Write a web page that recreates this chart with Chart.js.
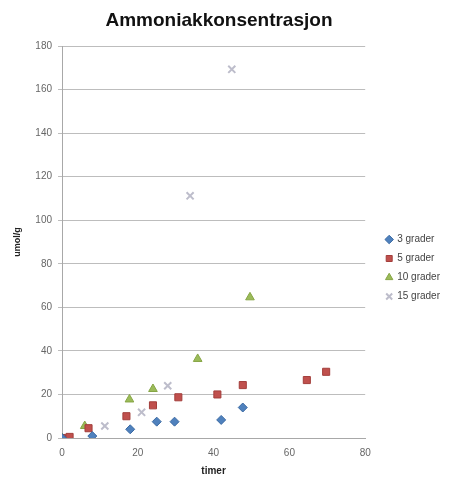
<!DOCTYPE html>
<html>
<head>
<meta charset="utf-8">
<script src="https://cdn.jsdelivr.net/npm/chart.js@4/dist/chart.umd.min.js"></script>
<style>
  html, body { margin: 0; padding: 0; background: #ffffff; }
  #wrap { width: 449px; height: 486px; }
</style>
</head>
<body>
<div id="wrap"><canvas id="c" width="449" height="486"></canvas></div>
<script>
// Ammonia concentration (umol/g) over time (hours) at four storage temperatures
const seriesNames = ['3 grader', '5 grader', '10 grader', '15 grader'];

const hours3 = [0, 8, 18, 25, 29.7, 42, 47.7];
const conc3  = [0, 0.9, 4, 7.5, 7.5, 8.3, 14];

const hours5 = [0, 2, 7, 17, 24, 30.7, 41, 47.7, 64.6, 69.7];
const conc5  = [0, 0.5, 4.5, 10, 15, 18.7, 20, 24.3, 26.6, 30.4];

const hours10 = [0, 6, 17.8, 24, 35.8, 49.6];
const conc10  = [0, 5.5, 17.7, 22.5, 36.3, 64.6];

const hours15 = [0, 11.3, 21, 27.9, 33.8, 44.8];
const conc15  = [0, 5.5, 11.8, 24, 111.2, 169.3];

const xTicks = [0, 20, 40, 60, 80];
const yTicks = [0, 20, 40, 60, 80, 100, 120, 140, 160, 180];

function toPoints(xs, ys) {
  return xs.map((x, i) => ({ x: x, y: ys[i] }));
}

const FONT = '"Liberation Sans", Arial, sans-serif';

// Nudges the legend block right of and below its default slot while drawing
const LEGEND_DX = 12;
const LEGEND_DY = 25;
const legendShift = {
  id: 'legendShift',
  beforeDraw(chart) {
    const lg = chart.legend;
    if (lg) {
      lg.left += LEGEND_DX; lg.right += LEGEND_DX;
      lg.top += LEGEND_DY; lg.bottom += LEGEND_DY;
    }
  },
  afterDraw(chart) {
    const lg = chart.legend;
    if (lg) {
      lg.left -= LEGEND_DX; lg.right -= LEGEND_DX;
      lg.top -= LEGEND_DY; lg.bottom -= LEGEND_DY;
    }
  }
};

new Chart(document.getElementById('c'), {
  type: 'scatter',
  data: {
    datasets: [
      {
        label: seriesNames[0],
        data: toPoints(hours3, conc3),
        pointStyle: 'rectRot',
        pointRadius: 4.5,
        backgroundColor: '#4F81BD',
        borderColor: '#3B6AA3',
        borderWidth: 1
      },
      {
        label: seriesNames[1],
        data: toPoints(hours5, conc5),
        pointStyle: 'rect',
        pointRadius: 5,
        backgroundColor: '#C0504D',
        borderColor: '#A33E3B',
        borderWidth: 1
      },
      {
        label: seriesNames[2],
        data: toPoints(hours10, conc10),
        pointStyle: 'triangle',
        pointRadius: 5,
        backgroundColor: '#9BBB59',
        borderColor: '#86A545',
        borderWidth: 1
      },
      {
        label: seriesNames[3],
        data: toPoints(hours15, conc15),
        pointStyle: 'crossRot',
        pointRadius: 5,
        backgroundColor: '#BDBDCB',
        borderColor: '#BDBDCB',
        borderWidth: 2
      }
    ]
  },
  options: {
    responsive: false,
    animation: false,
    devicePixelRatio: 1,
    layout: { padding: { left: 0, right: 11, top: 0, bottom: 0 } },
    plugins: {
      title: {
        display: true,
        text: 'Ammoniakkonsentrasjon',
        color: '#111111',
        font: { family: FONT, size: 19, weight: 'bold' },
        padding: { top: 9, bottom: 14.2 }
      },
      legend: {
        display: true,
        position: 'right',
        align: 'center',
        labels: {
          usePointStyle: true,
          boxWidth: 6,
          boxHeight: 6,
          padding: 9,
          color: '#444444',
          font: { family: FONT, size: 10 }
        }
      },
      tooltip: { enabled: false }
    },
    scales: {
      x: {
        type: 'linear',
        min: 0,
        max: 80,
        afterBuildTicks(scale) { scale.ticks = xTicks.map(v => ({ value: v })); },
        afterFit(scale) { scale.height = 48; },
        grid: { display: false, drawTicks: false },
        border: { display: true, color: '#A8A8A8', width: 1 },
        ticks: {
          padding: 9,
          color: '#666666',
          font: { family: FONT, size: 10 }
        },
        title: {
          display: true,
          text: 'timer',
          color: '#222222',
          font: { family: FONT, size: 10, weight: 'bold' },
          padding: { top: 4, bottom: 9 }
        }
      },
      y: {
        type: 'linear',
        min: 0,
        max: 180,
        afterBuildTicks(scale) { scale.ticks = yTicks.map(v => ({ value: v })); },
        afterFit(scale) { scale.width = 62; },
        grid: {
          color: '#BDBDBD',
          lineWidth: 1,
          drawTicks: true,
          tickLength: 4
        },
        border: { display: true, color: '#A8A8A8', width: 1 },
        ticks: {
          padding: 6,
          color: '#666666',
          font: { family: FONT, size: 10 }
        },
        title: {
          display: true,
          text: 'umol/g',
          color: '#222222',
          font: { family: FONT, size: 9, weight: 'bold' },
          padding: { top: 12, bottom: 4 }
        }
      }
    }
  },
  plugins: [legendShift]
});
</script>
</body>
</html>
